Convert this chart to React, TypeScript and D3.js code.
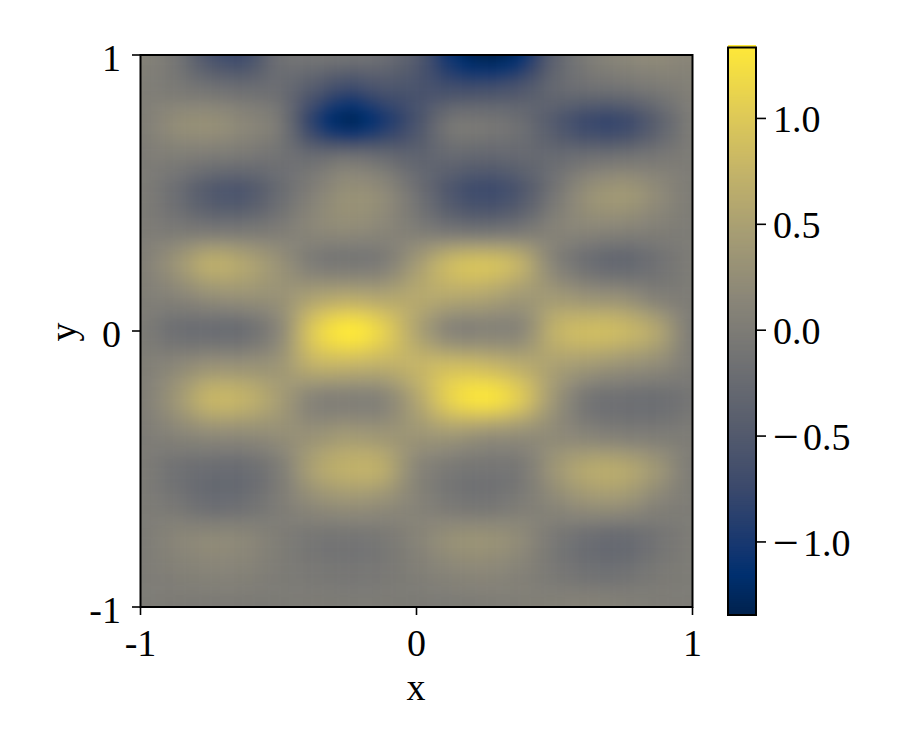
import React from "react";
import * as d3 from "d3";

const row00 = [0.08, -0.1, -0.6, -0.72, -0.2, -0.1, -0.12, -0.2, -0.5, -1.1, -1.35, -1.15, -0.4, 0.0, 0.15, 0.2, 0.12];
const row01 = [0.03, -0.03, -0.12, -0.2, -0.22, -0.5, -0.75, -0.6, -0.6, -0.65, -0.65, -0.55, -0.3, -0.2, -0.15, -0.05, 0.05];
const row02 = [0.03, 0.22, 0.27, 0.15, -0.05, -0.85, -1.25, -1.0, -0.6, -0.1, -0.08, -0.2, -0.5, -0.75, -0.75, -0.4, 0.0];
const row03 = [0.0, 0.0, -0.05, -0.1, -0.15, -0.2, -0.1, -0.2, -0.35, -0.3, -0.35, -0.3, -0.25, -0.15, -0.1, -0.05, 0.0];
const row04 = [0.0, -0.2, -0.5, -0.55, -0.25, 0.05, 0.27, 0.2, -0.15, -0.55, -0.72, -0.55, -0.1, 0.27, 0.38, 0.2, 0.0];
const row05 = [0.0, -0.05, -0.1, -0.1, -0.02, 0.15, 0.22, 0.15, 0.0, -0.15, -0.2, -0.12, 0.08, 0.15, 0.12, 0.05, 0.0];
const row06 = [0.05, 0.32, 0.65, 0.55, 0.3, 0.0, -0.07, 0.0, 0.4, 0.8, 0.9, 0.7, 0.1, -0.2, -0.3, -0.15, 0.0];
const row07 = [0.03, 0.1, 0.25, 0.3, 0.3, 0.5, 0.6, 0.55, 0.6, 0.6, 0.55, 0.4, 0.4, 0.3, 0.25, 0.05, 0.0];
const row08 = [0.0, -0.18, -0.22, -0.2, 0.15, 1.0, 1.33, 1.1, 0.55, 0.12, 0.1, 0.15, 0.7, 0.85, 0.8, 0.55, 0.0];
const row09 = [0.03, 0.15, 0.3, 0.3, 0.35, 0.7, 0.75, 0.7, 0.75, 0.85, 0.8, 0.65, 0.5, 0.4, 0.3, 0.2, 0.0];
const row10 = [0.03, 0.35, 0.75, 0.72, 0.45, 0.1, 0.05, 0.1, 0.55, 1.1, 1.28, 1.0, 0.35, -0.1, -0.18, -0.2, -0.1];
const row11 = [0.0, 0.1, 0.2, 0.2, 0.25, 0.3, 0.4, 0.35, 0.35, 0.4, 0.3, 0.25, 0.2, 0.1, 0.03, 0.0, 0.0];
const row12 = [0.0, -0.15, -0.22, -0.22, 0.0, 0.5, 0.7, 0.65, 0.15, -0.05, -0.1, -0.05, 0.35, 0.6, 0.6, 0.35, 0.0];
const row13 = [0.0, -0.08, -0.22, -0.18, 0.0, 0.2, 0.3, 0.25, 0.1, -0.05, -0.1, 0.0, 0.15, 0.3, 0.3, 0.1, 0.0];
const row14 = [0.0, 0.12, 0.18, 0.15, 0.02, -0.08, -0.1, -0.05, 0.1, 0.27, 0.3, 0.2, -0.05, -0.2, -0.25, -0.12, 0.0];
const row15 = [0.0, 0.05, 0.1, 0.08, 0.0, -0.05, -0.08, -0.05, 0.03, 0.12, 0.15, 0.08, -0.05, -0.15, -0.15, -0.05, 0.0];
const row16 = [0.0, -0.02, -0.03, -0.03, -0.02, 0.0, 0.0, 0.0, -0.02, -0.02, 0.0, 0.03, 0.07, 0.1, 0.07, 0.02, 0.0];
const grid = [row00, row01, row02, row03, row04, row05, row06, row07, row08, row09, row10, row11, row12, row13, row14, row15, row16];

const axisTicks = [-1, 0, 1];
const axisTickLabels = ["-1", "0", "1"];
const colorbarTicks = [-1, -0.5, 0, 0.5, 1];
const colorbarTickLabels = ["−1.0", "−0.5", "0.0", "0.5", "1.0"];
const valueDomain: [number, number] = [-1.345, 1.335];
const cividisPositions = [0, 0.07, 0.111, 0.222, 0.333, 0.444, 0.556, 0.667, 0.778, 0.889, 1];
const cividisColors = ["#00224e", "#00306f", "#123570", "#3b496c", "#575d6d", "#707173", "#8a8678", "#a59c74", "#c3b369", "#e1cc55", "#fee838"];

const FONT = "'Liberation Serif', serif";
const FS = 38;
const UPSAMPLE = 4;

// Same smoothing as imshow's bicubic interpolation: only used to paint between the read grid values.
function cubic(a: number, b: number, c: number, d: number, t: number) {
  return b + 0.5 * t * (c - a + t * (2 * a - 5 * b + 4 * c - d + t * (3 * (b - c) + d - a)));
}
function sample(u: number, v: number) {
  const n = grid.length - 1;
  const i = Math.min(Math.floor(u), n - 1);
  const j = Math.min(Math.floor(v), n - 1);
  const at = (r: number, c: number) => grid[Math.max(0, Math.min(n, r))][Math.max(0, Math.min(n, c))];
  const rowAt = (r: number) => cubic(at(r, i - 1), at(r, i), at(r, i + 1), at(r, i + 2), u - i);
  return cubic(rowAt(j - 1), rowAt(j), rowAt(j + 1), rowAt(j + 2), v - j);
}

export default function App() {
  const x = d3.scaleLinear().domain([-1, 1]).range([140.5, 692.5]);
  const y = d3.scaleLinear().domain([1, -1]).range([55, 607]);
  const tScale = d3.scaleLinear().domain(valueDomain).range([0, 1]).clamp(true);
  const ramp = d3.scaleLinear<string>().domain(cividisPositions).range(cividisColors).interpolate(d3.interpolateRgb);
  const color = (v: number) => ramp(tScale(v));
  const cb = d3.scaleLinear().domain(valueDomain).range([615, 47.5]);
  const n = grid.length - 1;
  const cells = n * UPSAMPLE;
  const cw = (x(1) - x(-1)) / cells;
  const ch = (y(-1) - y(1)) / cells;
  const idx = d3.range(0, cells + 1);
  const cbSteps = d3.range(0, 285).map((i) => valueDomain[0] + ((valueDomain[1] - valueDomain[0]) * i) / 284);

  return (
    <svg width={900} height={750} style={{ position: "absolute", left: 0, top: 0, background: "#fff" }}>
      <defs>
        <clipPath id="plot">
          <rect x={x(-1)} y={y(1)} width={x(1) - x(-1)} height={y(-1) - y(1)} />
        </clipPath>
        <filter id="smooth" x="-10%" y="-10%" width="120%" height="120%" colorInterpolationFilters="sRGB">
          <feGaussianBlur stdDeviation="4.5" />
        </filter>
      </defs>
      <g clipPath="url(#plot)">
        <g filter="url(#smooth)">
          {idx.map((a) =>
            idx.map((b) => {
              const px = x(-1) + a * cw;
              const py = y(1) + b * ch;
              const left = a === 0 ? px - 20 : px - cw / 2;
              const right = a === cells ? px + 20 : px + cw / 2;
              const top = b === 0 ? py - 20 : py - ch / 2;
              const bottom = b === cells ? py + 20 : py + ch / 2;
              return (
                <rect key={`${a}-${b}`} x={left} y={top} width={right - left + 0.5} height={bottom - top + 0.5}
                  fill={color(sample(a / UPSAMPLE, b / UPSAMPLE))} />
              );
            })
          )}
        </g>
      </g>
      <rect x={x(-1)} y={y(1)} width={x(1) - x(-1)} height={y(-1) - y(1)} fill="none" stroke="#000" strokeWidth={2} />
      {axisTicks.map((t, i) => (
        <g key={`x${t}`}>
          <line x1={x(t)} x2={x(t)} y1={607} y2={615} stroke="#000" strokeWidth={1.6} />
          <text x={x(t)} y={656} textAnchor="middle" fontFamily={FONT} fontSize={FS} fill="#000">{axisTickLabels[i]}</text>
          <line x1={132} x2={140} y1={y(t)} y2={y(t)} stroke="#000" strokeWidth={1.6} />
          <text x={121} y={y(t) + 16} textAnchor="end" fontFamily={FONT} fontSize={FS} fill="#000">{axisTickLabels[i]}</text>
        </g>
      ))}
      <text x={416} y={700} textAnchor="middle" fontFamily={FONT} fontSize={FS} fill="#000">x</text>
      <text transform="translate(76,332) rotate(-90)" textAnchor="middle" fontFamily={FONT} fontSize={FS} fill="#000">y</text>

      {cbSteps.map((v) => (
        <rect key={v} x={728} y={cb(v) - 2.5} width={28} height={3} fill={color(v)} />
      ))}
      <rect x={728} y={47.5} width={28} height={567.5} fill="none" stroke="#000" strokeWidth={2} />
      {colorbarTicks.map((t, i) => (
        <g key={`c${t}`}>
          <line x1={756} x2={766} y1={cb(t)} y2={cb(t)} stroke="#000" strokeWidth={1.6} />
          <text x={773} y={cb(t) + 14} fontFamily={FONT} fontSize={FS} fill="#000">
            {colorbarTickLabels[i].startsWith("−") ? (
              <>
                <tspan fontSize={46} dy={2}>−</tspan>
                <tspan dx={4} dy={-2}>{colorbarTickLabels[i].slice(1)}</tspan>
              </>
            ) : (
              colorbarTickLabels[i]
            )}
          </text>
        </g>
      ))}
    </svg>
  );
}
